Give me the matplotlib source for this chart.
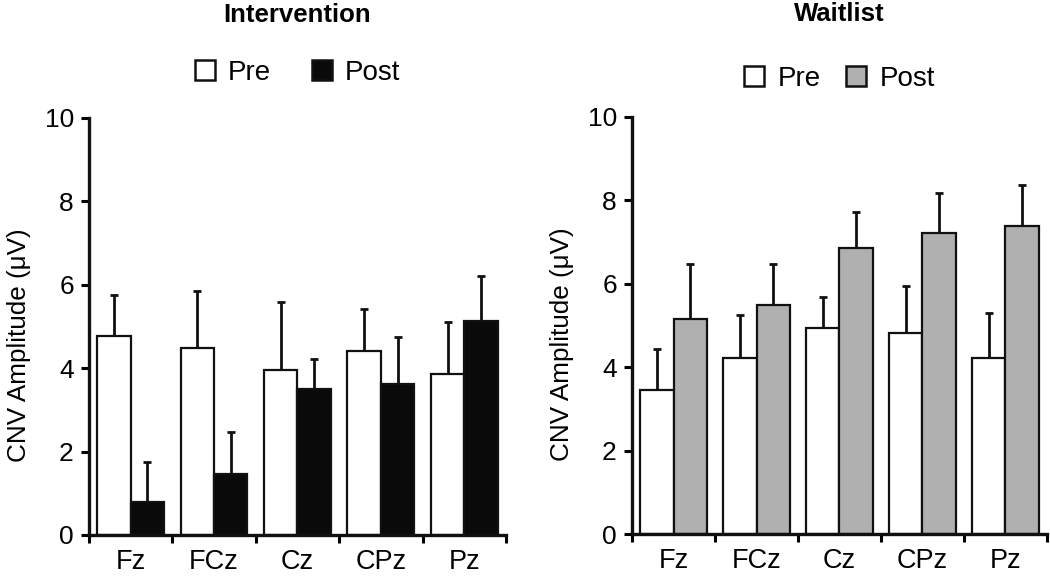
import matplotlib
matplotlib.use("Agg")
import matplotlib.pyplot as plt
import numpy as np
from matplotlib.patches import Patch

plt.rcParams['font.family'] = ['Liberation Sans', 'DejaVu Sans']

electrodes = ["Fz", "FCz", "Cz", "CPz", "Pz"]
y_ticks = [0, 2, 4, 6, 8, 10]

interv_pre = [4.78, 4.48, 3.96, 4.41, 3.86]
interv_pre_err = [0.98, 1.36, 1.62, 1.01, 1.24]
interv_post = [0.78, 1.47, 3.50, 3.62, 5.14]
interv_post_err = [0.96, 0.99, 0.73, 1.12, 1.08]

wait_pre = [3.46, 4.23, 4.94, 4.81, 4.23]
wait_pre_err = [0.97, 1.02, 0.75, 1.14, 1.07]
wait_post = [5.16, 5.50, 6.87, 7.22, 7.38]
wait_post_err = [1.31, 0.97, 0.85, 0.96, 1.00]

fig = plt.figure(figsize=(10.5, 5.78), dpi=100)
ax1 = fig.add_axes([0.0848, 0.0744, 0.397, 0.7215])
ax2 = fig.add_axes([0.602, 0.0761, 0.395, 0.7215])


def panel(ax, pre, pre_err, post, post_err, post_color, title, leg_y, colspace):
    x = np.arange(len(electrodes)) + 0.5
    w = 0.4
    ekw = dict(fmt='none', ecolor='#111111', elinewidth=2.0, capsize=2.6, capthick=2.0, zorder=1)
    ax.errorbar(x - w / 2, pre, yerr=[np.zeros(len(pre)), pre_err], **ekw)
    ax.errorbar(x + w / 2, post, yerr=[np.zeros(len(post)), post_err], **ekw)
    ax.bar(x - w / 2, pre, width=w, color='white', edgecolor='#111111', linewidth=1.6, zorder=2)
    ax.bar(x + w / 2, post, width=w, color=post_color, edgecolor='#111111', linewidth=1.6, zorder=2)
    ax.set_xlim(0, len(electrodes))
    ax.set_ylim(0, 10)
    ax.set_yticks(y_ticks)
    ax.set_yticklabels([str(v) for v in y_ticks], fontsize=19)
    ax.set_xticks(np.arange(len(electrodes) + 1))
    ax.set_xticklabels([])
    ax.set_xticks(x, minor=True)
    ax.set_xticklabels(electrodes, minor=True, fontsize=19.5)
    ax.tick_params(axis='x', which='minor', length=0, pad=10)
    ax.tick_params(axis='x', which='major', direction='out', length=6, width=2.2)
    ax.tick_params(axis='y', direction='out', length=6, width=2.2, pad=5)
    for s in ['top', 'right']:
        ax.spines[s].set_visible(False)
    for s in ['left', 'bottom']:
        ax.spines[s].set_linewidth(2.4)
        ax.spines[s].set_color('#111111')
    ax.set_ylabel("CNV Amplitude (\u03bcV)", fontsize=18.8)
    ax.yaxis.set_label_coords(-0.14, 0.455)
    ax.text(0.5, 1.247, title, transform=ax.transAxes, ha='center', va='center',
            fontsize=18.5, fontweight='bold')
    handles = [Patch(facecolor='white', edgecolor='#111111', linewidth=1.8, label='Pre'),
               Patch(facecolor=post_color, edgecolor='#111111', linewidth=1.8, label='Post')]
    ax.legend(handles=handles, loc='center', bbox_to_anchor=(0.5, leg_y), ncol=2,
              frameon=False, fontsize=20, handlelength=0.72, handleheight=0.72,
              handletextpad=0.47, columnspacing=colspace, borderaxespad=0, borderpad=0)


panel(ax1, interv_pre, interv_pre_err, interv_post, interv_post_err, '#0a0a0a', 'Intervention', 1.108, 1.47)
panel(ax2, wait_pre, wait_pre_err, wait_post, wait_post_err, '#b0b0b0', 'Waitlist', 1.091, 0.93)

fig.savefig('out.png', dpi=100)
